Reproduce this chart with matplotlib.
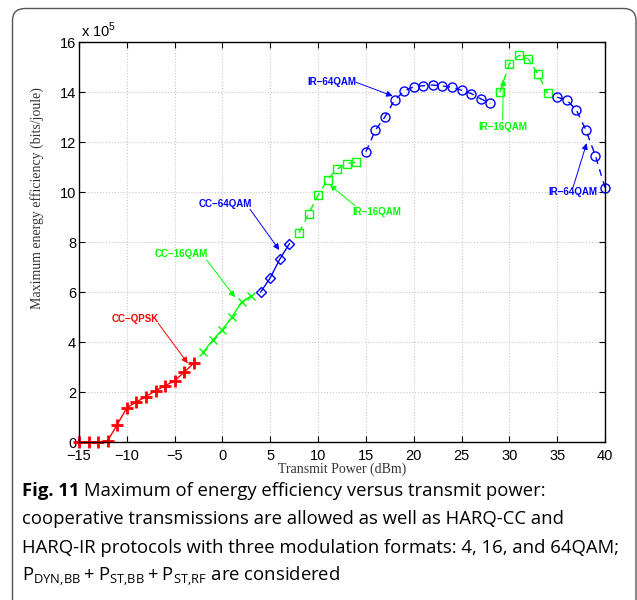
import matplotlib.pyplot as plt
import numpy as np
from matplotlib.patches import FancyBboxPatch

plt.rcParams['mathtext.fontset'] = 'custom'
plt.rcParams['mathtext.rm'] = 'Open Sans'

# values in units of 1e5 bits/joule
cc_qpsk_x = [-15, -14, -13, -12, -11, -10, -9, -8, -7, -6, -5, -4, -3]
cc_qpsk_y = [0, 0, 0, 0.05, 0.7, 1.37, 1.6, 1.82, 2.05, 2.25, 2.45, 2.8, 3.15]
cc_16_x = [-2, -1, 0, 1, 2, 3]
cc_16_y = [3.6, 4.08, 4.5, 5.0, 5.6, 5.84]
cc_64_x = [4, 5, 6, 7]
cc_64_y = [6.0, 6.57, 7.32, 7.93]
ir_16a_x = [8, 9, 10, 11, 12, 13, 14]
ir_16a_y = [8.37, 9.12, 9.87, 10.5, 10.92, 11.13, 11.2]
ir_64a_x = [15, 16, 17, 18, 19, 20, 21, 22, 23, 24, 25, 26, 27, 28]
ir_64a_y = [11.61, 12.48, 13.01, 13.68, 14.03, 14.21, 14.25, 14.28, 14.24,
            14.19, 14.07, 13.94, 13.73, 13.55]
ir_16b_x = [29, 30, 31, 32, 33, 34]
ir_16b_y = [13.99, 15.12, 15.47, 15.31, 14.71, 13.95]
ir_64b_x = [35, 36, 37, 38, 39, 40]
ir_64b_y = [13.79, 13.68, 13.28, 12.48, 11.45, 10.17]

RED = (1, 0, 0)
GREEN = (0, 1, 0)
BLUE = (0, 0, 1)

fig = plt.figure(figsize=(6.37, 6.0), dpi=100)

# rounded frame around the figure
frame = FancyBboxPatch((12.5 / 637, -0.2), (636 - 12.5) / 637, 1.2 - 8.5 / 600,
                       boxstyle='round,pad=0,rounding_size=0.02',
                       transform=fig.transFigure, fill=False,
                       edgecolor='#555555', lw=1.0, clip_on=False)
fig.patches.append(frame)

ax = fig.add_axes([79 / 637, 1 - 442 / 600, 526 / 637, 400 / 600])

dash = (0, (5, 4))
ax.plot(cc_qpsk_x, cc_qpsk_y, '-', color=RED, lw=1, marker='+', ms=8, mew=2, clip_on=False)
ax.plot(cc_16_x, cc_16_y, '-', color=GREEN, lw=1, marker='x', ms=5.5, mew=1)
ax.plot(cc_64_x, cc_64_y, '-', color=BLUE, lw=1, marker='D', ms=5.5, mew=1, mfc='none')
ax.plot(ir_16a_x, ir_16a_y, color=GREEN, lw=1, ls=dash, marker='s', ms=5.5, mew=1, mfc='none')
ax.plot(ir_64a_x, ir_64a_y, color=BLUE, lw=1, ls=dash, marker='o', ms=6.5, mew=1, mfc='none')
ax.plot(ir_16b_x, ir_16b_y, color=GREEN, lw=1, ls=dash, marker='s', ms=5.5, mew=1, mfc='none')
ax.plot(ir_64b_x, ir_64b_y, color=BLUE, lw=1, ls=dash, marker='o', ms=6.5, mew=1, mfc='none',
        clip_on=False)

ax.set_xlim(-15, 40)
ax.set_ylim(0, 16)
ax.set_xticks(np.arange(-15, 41, 5))
ax.set_yticks(np.arange(0, 17, 2))
ax.grid(True, ls=':', color='#c8c8c8', lw=0.8)
ax.tick_params(direction='in', top=True, right=True, length=4, width=0.8,
               labelsize=10.5)
ax.tick_params(axis='x', pad=5)
ax.tick_params(axis='y', pad=2)
for lab in ax.get_xticklabels() + ax.get_yticklabels():
    lab.set_fontfamily('Liberation Sans')
for s in ax.spines.values():
    s.set_linewidth(1.0)

ax.text(0.003, 1.004, r'x 10$^{\mathregular{5}}$', transform=ax.transAxes,
        fontsize=10.5, family='Liberation Sans', ha='left', va='bottom')

ax.set_ylabel('Maximum energy efficiency (bits/joule)', family='Liberation Serif',
              fontsize=10, color='#333333')
ax.yaxis.set_label_coords(-0.066, 0.61)
ax.set_xlabel('Transmit Power (dBm)', family='Liberation Serif', fontsize=10,
              color='#333333', labelpad=0)

labels = [
    ('CC\u2212QPSK', (-9.14, 4.92), (-6.74, 4.76), (-3.63, 3.15), RED),
    ('CC\u221216QAM', (-4.33, 7.52), (-1.65, 7.28), (1.31, 5.79), GREEN),
    ('CC\u221264QAM', (0.27, 9.52), (2.88, 9.31), (5.94, 7.68), BLUE),
    ('IR\u221216QAM', (16.13, 9.19), (13.86, 9.45), (11.24, 10.28), GREEN),
    ('IR\u221264QAM', (11.42, 14.39), (13.96, 14.39), (17.8, 13.84), BLUE),
    ('IR\u221216QAM', (29.3, 12.59), (29.3, 12.88), (29.37, 14.51), GREEN),
    ('IR\u221264QAM', (36.68, 10.0), (36.68, 10.21), (38.08, 11.95), BLUE),
]
for txt, pos, tail, head, col in labels:
    ax.text(pos[0], pos[1], txt, color=col, fontsize=7, fontweight='bold',
            family='Liberation Sans', ha='center', va='center')
    ax.annotate('', xy=head, xytext=tail,
                arrowprops=dict(arrowstyle='-|>', color=col, lw=0.7,
                                mutation_scale=9, shrinkA=0, shrinkB=0))

cap_x = 22 / 637
cap_fs = 13.3
lines_y = [491, 519, 548, 576]
t = fig.text(cap_x, 1 - lines_y[0] / 600, 'Fig. 11 ', family='Open Sans', fontweight='bold',
             fontsize=cap_fs, va='center', ha='left')
fig.canvas.draw()
bb = t.get_window_extent()
fig.text(bb.x1 / 637, 1 - lines_y[0] / 600,
         'Maximum of energy efficiency versus transmit power:',
         family='Open Sans', fontsize=cap_fs, va='center', ha='left')
fig.text(cap_x, 1 - lines_y[1] / 600,
         'cooperative transmissions are allowed as well as HARQ-CC and',
         family='Open Sans', fontsize=cap_fs, va='center', ha='left')
fig.text(cap_x, 1 - lines_y[2] / 600,
         'HARQ-IR protocols with three modulation formats: 4, 16, and 64QAM;',
         family='Open Sans', fontsize=cap_fs, va='center', ha='left')
fig.text(cap_x, 1 - lines_y[3] / 600,
         r'$\mathrm{P}_{\mathrm{DYN{,}BB}} + \mathrm{P}_{\mathrm{ST{,}BB}} + \mathrm{P}_{\mathrm{ST{,}RF}}$ are considered',
         family='Open Sans', fontsize=cap_fs, va='center', ha='left')

fig.savefig('out.png', dpi=100)
